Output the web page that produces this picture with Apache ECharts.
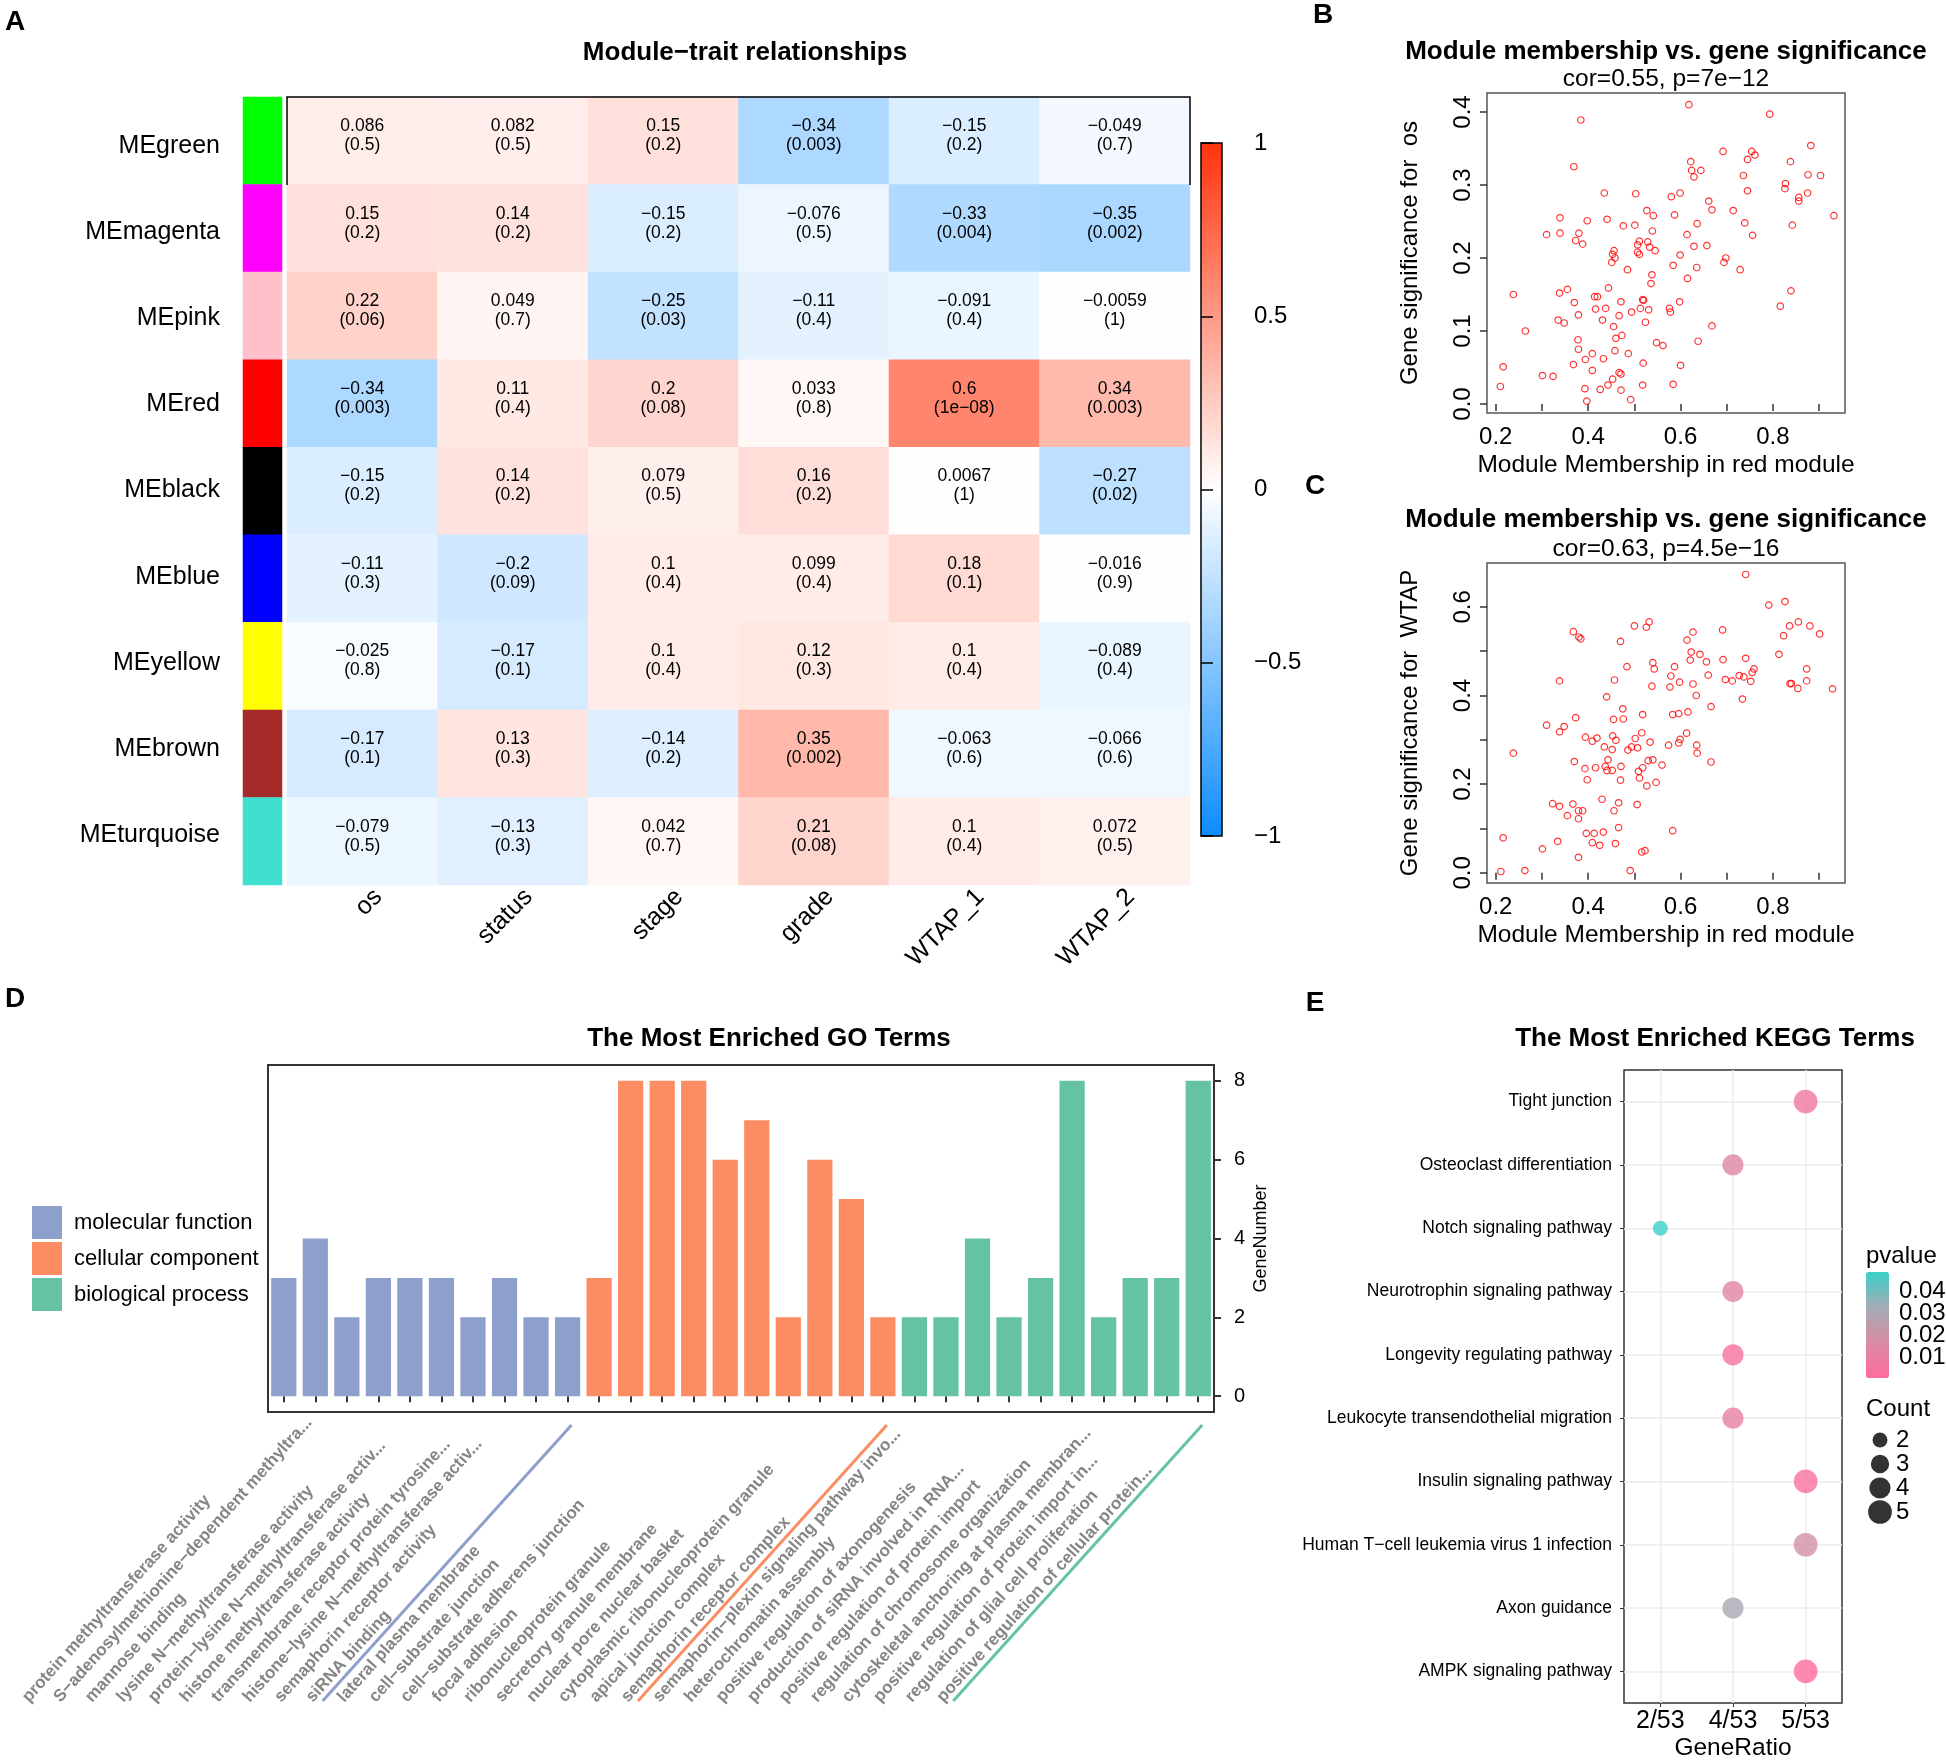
<!DOCTYPE html>
<html>
<head>
<meta charset="utf-8">
<title>Module-trait relationships and enrichment</title>
<script src="https://cdn.jsdelivr.net/npm/echarts@6/dist/echarts.min.js"></script>
<style>
html, body { margin: 0; padding: 0; background: #fff; }
#chart { width: 1946px; height: 1761px; }
</style>
</head>
<body>
<div id="chart"></div>
<script>
// ---- panel A: module-trait correlations ----
const modules = ['MEgreen', 'MEmagenta', 'MEpink', 'MEred', 'MEblack', 'MEblue', 'MEyellow', 'MEbrown', 'MEturquoise']
const moduleColors = ['#00FF00', '#FF00FF', '#FFC0CB', '#FF0000', '#000000', '#0000FF', '#FFFF00', '#A52A2A', '#40E0D0']
const traits = ['os', 'status', 'stage', 'grade', 'WTAP_1', 'WTAP_2']
const corValues = [
  [0.086, 0.082, 0.15, -0.34, -0.15, -0.049],
  [0.15, 0.14, -0.15, -0.076, -0.33, -0.35],
  [0.22, 0.049, -0.25, -0.11, -0.091, -0.0059],
  [-0.34, 0.11, 0.2, 0.033, 0.6, 0.34],
  [-0.15, 0.14, 0.079, 0.16, 0.0067, -0.27],
  [-0.11, -0.2, 0.1, 0.099, 0.18, -0.016],
  [-0.025, -0.17, 0.1, 0.12, 0.1, -0.089],
  [-0.17, 0.13, -0.14, 0.35, -0.063, -0.066],
  [-0.079, -0.13, 0.042, 0.21, 0.1, 0.072]
]
const pValues = [
  ['0.5', '0.5', '0.2', '0.003', '0.2', '0.7'],
  ['0.2', '0.2', '0.2', '0.5', '0.004', '0.002'],
  ['0.06', '0.7', '0.03', '0.4', '0.4', '1'],
  ['0.003', '0.4', '0.08', '0.8', '1e-08', '0.003'],
  ['0.2', '0.2', '0.5', '0.2', '1', '0.02'],
  ['0.3', '0.09', '0.4', '0.4', '0.1', '0.9'],
  ['0.8', '0.1', '0.4', '0.3', '0.4', '0.4'],
  ['0.1', '0.3', '0.2', '0.002', '0.6', '0.6'],
  ['0.5', '0.3', '0.7', '0.08', '0.4', '0.5']
]

// ---- panels B and C: module membership vs gene significance ----
const mmTicks = [0.2, 0.3, 0.4, 0.5, 0.6, 0.7, 0.8, 0.9]
const mmLabels = [0.2, 0.4, 0.6, 0.8]
const gsOsTicks = [0, 0.1, 0.2, 0.3, 0.4]
const gsWtapTicks = [0, 0.1, 0.2, 0.3, 0.4, 0.5, 0.6]
const gsWtapLabels = [0, 0.2, 0.4, 0.6]
const scatterOs = [
  [0.618, 0.410], [0.793, 0.397], [0.384, 0.389], [0.882, 0.354], [0.692, 0.346], [0.754, 0.346], [0.761, 0.341], [0.745, 0.335], [0.622, 0.332], [0.838, 0.332],
  [0.369, 0.325], [0.624, 0.320], [0.644, 0.320], [0.629, 0.311], [0.736, 0.313], [0.876, 0.314], [0.903, 0.313], [0.827, 0.302], [0.826, 0.295], [0.745, 0.292],
  [0.435, 0.289], [0.503, 0.288], [0.599, 0.289], [0.580, 0.284], [0.875, 0.289], [0.856, 0.283], [0.856, 0.278], [0.661, 0.278], [0.668, 0.266], [0.714, 0.265],
  [0.527, 0.265], [0.541, 0.258], [0.587, 0.259], [0.932, 0.258], [0.339, 0.255], [0.441, 0.253], [0.398, 0.251], [0.636, 0.247], [0.739, 0.248], [0.842, 0.245],
  [0.476, 0.244], [0.501, 0.245], [0.539, 0.237], [0.310, 0.232], [0.339, 0.234], [0.380, 0.234], [0.614, 0.232], [0.756, 0.231], [0.373, 0.224], [0.388, 0.219],
  [0.511, 0.223], [0.529, 0.222], [0.507, 0.218], [0.657, 0.217], [0.533, 0.215], [0.629, 0.216], [0.456, 0.210], [0.545, 0.210], [0.453, 0.205], [0.507, 0.208],
  [0.511, 0.205], [0.599, 0.204], [0.458, 0.200], [0.698, 0.200], [0.451, 0.194], [0.694, 0.194], [0.584, 0.190], [0.635, 0.187], [0.485, 0.184], [0.729, 0.184],
  [0.538, 0.177], [0.615, 0.172], [0.536, 0.165], [0.444, 0.159], [0.355, 0.157], [0.839, 0.155], [0.238, 0.150], [0.338, 0.152], [0.414, 0.147], [0.420, 0.147],
  [0.518, 0.143], [0.520, 0.142], [0.370, 0.139], [0.471, 0.140], [0.598, 0.140], [0.816, 0.134], [0.416, 0.130], [0.438, 0.131], [0.513, 0.131], [0.531, 0.129],
  [0.576, 0.131], [0.578, 0.126], [0.494, 0.126], [0.379, 0.122], [0.467, 0.121], [0.335, 0.115], [0.431, 0.115], [0.348, 0.111], [0.524, 0.112], [0.668, 0.107],
  [0.455, 0.106], [0.264, 0.100], [0.473, 0.094], [0.460, 0.090], [0.378, 0.088], [0.638, 0.086], [0.548, 0.084], [0.562, 0.080], [0.379, 0.075], [0.458, 0.073],
  [0.487, 0.069], [0.409, 0.069], [0.394, 0.061], [0.433, 0.062], [0.519, 0.056], [0.368, 0.054], [0.600, 0.053], [0.216, 0.051], [0.409, 0.046], [0.467, 0.043],
  [0.471, 0.041], [0.301, 0.039], [0.324, 0.038], [0.453, 0.034], [0.443, 0.026], [0.518, 0.026], [0.584, 0.027], [0.210, 0.024], [0.393, 0.021], [0.426, 0.020],
  [0.471, 0.019], [0.492, 0.006], [0.397, 0.004]
]
const scatterWtap = [
  [0.741, 0.673], [0.826, 0.612], [0.791, 0.604], [0.532, 0.566], [0.855, 0.566], [0.500, 0.557], [0.526, 0.554], [0.836, 0.557], [0.880, 0.557], [0.691, 0.548],
  [0.368, 0.544], [0.627, 0.543], [0.901, 0.539], [0.380, 0.532], [0.384, 0.528], [0.823, 0.535], [0.614, 0.525], [0.470, 0.522], [0.623, 0.498], [0.642, 0.493],
  [0.813, 0.493], [0.621, 0.480], [0.692, 0.481], [0.741, 0.484], [0.540, 0.474], [0.656, 0.476], [0.484, 0.465], [0.587, 0.465], [0.543, 0.460], [0.759, 0.460],
  [0.873, 0.460], [0.755, 0.452], [0.579, 0.444], [0.660, 0.446], [0.727, 0.445], [0.737, 0.442], [0.338, 0.433], [0.457, 0.435], [0.697, 0.436], [0.712, 0.433],
  [0.752, 0.432], [0.873, 0.433], [0.598, 0.430], [0.627, 0.426], [0.837, 0.427], [0.840, 0.427], [0.538, 0.421], [0.577, 0.419], [0.854, 0.416], [0.929, 0.415],
  [0.634, 0.400], [0.440, 0.397], [0.734, 0.392], [0.666, 0.375], [0.475, 0.370], [0.616, 0.363], [0.518, 0.357], [0.583, 0.357], [0.596, 0.359], [0.373, 0.350],
  [0.455, 0.346], [0.476, 0.347], [0.310, 0.333], [0.348, 0.330], [0.338, 0.318], [0.516, 0.316], [0.613, 0.315], [0.453, 0.309], [0.394, 0.306], [0.419, 0.304],
  [0.502, 0.303], [0.409, 0.297], [0.460, 0.299], [0.599, 0.301], [0.534, 0.295], [0.596, 0.293], [0.574, 0.288], [0.635, 0.288], [0.435, 0.284], [0.494, 0.284],
  [0.507, 0.282], [0.486, 0.277], [0.452, 0.278], [0.238, 0.270], [0.636, 0.270], [0.443, 0.255], [0.530, 0.253], [0.540, 0.255], [0.370, 0.251], [0.666, 0.250],
  [0.560, 0.243], [0.437, 0.240], [0.471, 0.240], [0.393, 0.235], [0.416, 0.237], [0.441, 0.231], [0.452, 0.231], [0.509, 0.229], [0.518, 0.237], [0.511, 0.214],
  [0.398, 0.210], [0.470, 0.209], [0.547, 0.204], [0.527, 0.196], [0.430, 0.166], [0.323, 0.156], [0.338, 0.150], [0.367, 0.155], [0.466, 0.158], [0.506, 0.154],
  [0.379, 0.140], [0.388, 0.140], [0.456, 0.140], [0.355, 0.129], [0.379, 0.122], [0.466, 0.102], [0.583, 0.095], [0.396, 0.089], [0.413, 0.089], [0.433, 0.092],
  [0.216, 0.079], [0.334, 0.071], [0.409, 0.068], [0.459, 0.066], [0.425, 0.062], [0.301, 0.054], [0.516, 0.047], [0.523, 0.050], [0.379, 0.035], [0.211, 0.003],
  [0.263, 0.005], [0.491, 0.005]
]

// ---- panel D: GO terms ----
const goGroupNames = ['molecular function', 'cellular component', 'biological process']
const goTerms = [
  'protein methyltransferase activity',
  'S-adenosylmethionine-dependent methyltra...',
  'mannose binding',
  'lysine N-methyltransferase activity',
  'protein-lysine N-methyltransferase activ...',
  'histone methyltransferase activity',
  'transmembrane receptor protein tyrosine...',
  'histone-lysine N-methyltransferase activ...',
  'semaphorin receptor activity',
  'siRNA binding',
  'lateral plasma membrane',
  'cell-substrate junction',
  'cell-substrate adherens junction',
  'focal adhesion',
  'ribonucleoprotein granule',
  'secretory granule membrane',
  'nuclear pore nuclear basket',
  'cytoplasmic ribonucleoprotein granule',
  'apical junction complex',
  'semaphorin receptor complex',
  'semaphorin-plexin signaling pathway invo...',
  'heterochromatin assembly',
  'positive regulation of axonogenesis',
  'production of siRNA involved in RNA...',
  'positive regulation of protein import',
  'regulation of chromosome organization',
  'cytoskeletal anchoring at plasma membran...',
  'positive regulation of protein import in...',
  'regulation of glial cell proliferation',
  'positive regulation of cellular protein...'
]
const goCounts = [3, 4, 2, 3, 3, 3, 2, 3, 2, 2, 3, 8, 8, 8, 6, 7, 2, 6, 5, 2, 2, 2, 4, 2, 3, 8, 2, 3, 3, 8]
const goGroups = [0, 0, 0, 0, 0, 0, 0, 0, 0, 0, 1, 1, 1, 1, 1, 1, 1, 1, 1, 1, 2, 2, 2, 2, 2, 2, 2, 2, 2, 2]
const geneTicks = [0, 2, 4, 6, 8]

// ---- panel E: KEGG terms ----
const keggTerms = [
  'Tight junction', 'Osteoclast differentiation', 'Notch signaling pathway', 'Neurotrophin signaling pathway',
  'Longevity regulating pathway', 'Leukocyte transendothelial migration', 'Insulin signaling pathway',
  'Human T-cell leukemia virus 1 infection', 'Axon guidance', 'AMPK signaling pathway'
]
const keggRatioTicks = ['2/53', '4/53', '5/53']
const keggRatio = ['5/53', '4/53', '2/53', '4/53', '4/53', '4/53', '5/53', '5/53', '4/53', '5/53']
const keggCount = [5, 4, 2, 4, 4, 4, 5, 5, 4, 5]
const keggP = [0.007, 0.014, 0.0487, 0.013, 0.003, 0.011, 0.003, 0.019, 0.031, 0.0003]
const pTickLabels = ['0.01', '0.02', '0.03', '0.04']
const countLegend = [2, 3, 4, 5]

const FONT = '"Liberation Sans", Arial, Helvetica, sans-serif'
const goColors = ['#8DA0CB', '#FC8D62', '#66C2A5']
const neg = s => String(s).replace(/-/g, '\u2212')
const dotSize = c => 10.6 * Math.sqrt(c)
const pMin = Math.min(...keggP)
const pMax = Math.max(...keggP)

const chart = echarts.init(document.getElementById('chart'))

function scatterX(g) {
  return {
    gridIndex: g, type: 'value', min: 0.181, max: 0.956,
    name: 'Module Membership in red module', nameLocation: 'middle', nameGap: 40,
    nameTextStyle: { fontSize: 24.5, color: '#000' },
    axisLine: { show: false }, splitLine: { show: false },
    axisTick: { show: true, length: 7, lineStyle: { color: '#333', width: 1.5 }, customValues: mmTicks },
    axisLabel: { fontSize: 24, color: '#000', margin: 12, customValues: mmLabels, formatter: v => v.toFixed(1) }
  }
}
function scatterY(g, min, max, ticks, labels, name) {
  return {
    gridIndex: g, type: 'value', min, max,
    name, nameLocation: 'middle', nameGap: 65,
    nameTextStyle: { fontSize: 24, color: '#000' },
    axisLine: { show: false }, splitLine: { show: false },
    axisTick: { show: true, length: 7, lineStyle: { color: '#333', width: 1.5 }, customValues: ticks },
    axisLabel: { fontSize: 24, color: '#000', margin: 12, rotate: 90, customValues: labels, formatter: v => v.toFixed(1) }
  }
}
function grid(left, top, width, height, extra) {
  return Object.assign({ left, top, width, height, containLabel: false, outerBoundsMode: 'none' }, extra || {})
}
function text(id, x, y, str, size, weight, align) {
  return {
    type: 'text', id, x, y, z: 20,
    style: {
      text: str, fontSize: size, fontWeight: weight || 'normal', fontFamily: FONT,
      fill: '#000', align: align || 'center', verticalAlign: 'middle'
    }
  }
}

const heatData = []
corValues.forEach((row, i) => row.forEach((v, j) => heatData.push([j, i, v])))

const option = {
  animation: false,
  backgroundColor: '#fff',
  textStyle: { fontFamily: FONT, color: '#000' },
  grid: [
    grid(287, 97, 903, 788),
    grid(243, 97, 39, 788),
    grid(1201, 143, 21, 693, { show: true, borderColor: '#000', borderWidth: 1.5, backgroundColor: 'transparent', z: 10 }),
    grid(1487, 93, 358, 320, { show: true, borderColor: '#555', borderWidth: 1.5 }),
    grid(1487, 563, 358, 320, { show: true, borderColor: '#555', borderWidth: 1.5 }),
    grid(268, 1065, 946, 347, { show: true, borderColor: '#333', borderWidth: 2 }),
    grid(1624, 1070, 218, 633, { show: true, borderColor: '#333', borderWidth: 1.5 }),
    // pvalue colourbar labels: 0.01 .. 0.04 are evenly spaced inside the bar
    grid(1866, 1280, 23, 88),
    grid(1868, 1428, 24, 96),
    // trait labels sit a little right of the column centres, as in labeledHeatmap
    grid(303, 97, 903, 788),
    // module names are spaced a touch tighter than the rows
    grid(243, 103, 39, 775)
  ],
  xAxis: [
    { gridIndex: 0, type: 'category', data: traits, show: false },
    { gridIndex: 1, type: 'category', data: [''], show: false },
    { gridIndex: 2, type: 'value', show: false },
    scatterX(3),
    scatterX(4),
    {
      gridIndex: 5, type: 'category', data: goTerms,
      axisLine: { show: false }, splitLine: { show: false },
      axisTick: { show: true, alignWithLabel: true, length: 6, lineStyle: { color: '#333', width: 2 } },
      axisLabel: {
        interval: 0, rotate: 48, margin: 1, fontWeight: 'bold', fontSize: 17, color: '#858585',
        formatter: v => '{t|' + neg(v) + '}',
        rich: { t: { width: 386, align: 'left', fontSize: 17, fontWeight: 'bold', color: '#858585', fontFamily: FONT } }
      }
    },
    {
      gridIndex: 6, type: 'category', data: keggRatioTicks,
      axisLine: { show: false },
      axisTick: { show: true, alignWithLabel: true, length: 4, lineStyle: { color: '#333' } },
      axisLabel: { fontSize: 25, margin: 6, color: '#000' },
      splitLine: { show: true, alignWithLabel: true, lineStyle: { color: '#EBEBEB', width: 1.5 } },
      name: 'GeneRatio', nameLocation: 'middle', nameGap: 33, nameTextStyle: { fontSize: 24.5, color: '#000' }
    },
    { gridIndex: 7, type: 'value', show: false },
    { gridIndex: 8, type: 'value', show: false, min: -1, max: 1 },
    {
      gridIndex: 9, type: 'category', data: traits, position: 'bottom',
      axisLine: { show: false }, axisTick: { show: false }, splitLine: { show: false },
      axisLabel: { rotate: 45, fontSize: 25, margin: 8, color: '#000', interval: 0 }
    },
    { gridIndex: 10, type: 'value', show: false }
  ],
  yAxis: [
    { gridIndex: 0, type: 'category', data: modules, inverse: true, show: false },
    { gridIndex: 1, type: 'category', data: modules, inverse: true, show: false },
    {
      gridIndex: 2, type: 'value', position: 'right', min: -1, max: 1, interval: 0.5, z: 10,
      axisLine: { show: false }, splitLine: { show: false },
      axisTick: { show: true, length: 12, lineStyle: { color: '#000', width: 1.5 } },
      axisLabel: { fontSize: 24, margin: 32, color: '#000', formatter: v => neg(v) }
    },
    scatterY(3, -0.0123, 0.426, gsOsTicks, gsOsTicks, 'Gene significance for  os'),
    scatterY(4, -0.023, 0.699, gsWtapTicks, gsWtapLabels, 'Gene significance for  WTAP'),
    {
      gridIndex: 5, type: 'value', position: 'right', min: -0.4, max: 8.4,
      name: 'GeneNumber', nameLocation: 'middle', nameGap: 38, nameRotate: 90,
      nameTextStyle: { fontSize: 18, color: '#000' },
      axisLine: { show: false }, splitLine: { show: false },
      axisTick: { show: true, length: 7, lineStyle: { color: '#333', width: 2 }, customValues: geneTicks },
      axisLabel: { fontSize: 20, margin: 20, color: '#000', customValues: geneTicks }
    },
    {
      gridIndex: 6, type: 'category', data: keggTerms, inverse: true,
      axisLine: { show: false },
      axisTick: { show: true, alignWithLabel: true, length: 4, lineStyle: { color: '#333' } },
      axisLabel: { fontSize: 17.5, margin: 12, color: '#000', interval: 0, formatter: v => neg(v) },
      splitLine: { show: true, alignWithLabel: true, lineStyle: { color: '#EBEBEB', width: 1.5 } }
    },
    {
      gridIndex: 7, type: 'category', data: pTickLabels, position: 'right', z: 10,
      axisLine: { show: false }, splitLine: { show: false },
      axisTick: { show: true, inside: true, alignWithLabel: true, length: 5, lineStyle: { color: '#fff', width: 1.5 } },
      axisLabel: { fontSize: 24, margin: 10, color: '#000', interval: 0 }
    },
    {
      gridIndex: 8, type: 'category', data: countLegend.map(String), inverse: true, position: 'right',
      axisLine: { show: false }, axisTick: { show: false },
      axisLabel: { fontSize: 24, margin: 4, color: '#000', interval: 0 }
    },
    { gridIndex: 9, type: 'value', show: false },
    {
      gridIndex: 10, type: 'category', data: modules, inverse: true,
      axisLine: { show: false }, axisTick: { show: false },
      axisLabel: { fontSize: 25, margin: 23, color: '#000', interval: 0 }
    }
  ],
  visualMap: [
    {
      type: 'continuous', seriesIndex: 0, dimension: 2, min: -1, max: 1,
      inRange: { color: ['#0D8CFF', '#FFFFFF', '#FF330D'] },
      left: 1201, top: 143, itemWidth: 21, itemHeight: 693,
      calculable: false, hoverLink: false, padding: 0
    },
    {
      type: 'continuous', seriesIndex: 7, dimension: 2, min: pMin, max: pMax,
      inRange: { color: ['#FF6B9E', '#DA8BA3', '#A3ACB5', '#3BCFC8'] },
      left: 1866, top: 1272, itemWidth: 23, itemHeight: 106,
      calculable: false, hoverLink: false, padding: 0
    }
  ],
  legend: {
    data: goGroupNames, orient: 'vertical', left: 32, top: 1206, padding: 0,
    itemWidth: 30, itemHeight: 33, itemGap: 3, icon: 'rect', selectedMode: false,
    textStyle: { fontSize: 22, color: '#000', padding: [0, 0, 0, 7] }
  },
  series: [
    {
      type: 'heatmap', xAxisIndex: 0, yAxisIndex: 0, data: heatData,
      emphasis: { disabled: true },
      label: {
        show: true, fontSize: 17.5, lineHeight: 19, color: '#000', offset: [0, -5],
        formatter: p => neg(p.value[2]) + '\n(' + neg(pValues[p.value[1]][p.value[0]]) + ')'
      }
    },
    {
      type: 'heatmap', xAxisIndex: 1, yAxisIndex: 1,
      emphasis: { disabled: true },
      data: modules.map((m, i) => ({ value: [0, i, 1], itemStyle: { color: moduleColors[i] } }))
    },
    {
      type: 'scatter', xAxisIndex: 3, yAxisIndex: 3, data: scatterOs,
      symbol: 'circle', symbolSize: 6.5,
      itemStyle: { color: 'rgba(0,0,0,0)', borderColor: '#FF0000', borderWidth: 1.2 }
    },
    {
      type: 'scatter', xAxisIndex: 4, yAxisIndex: 4, data: scatterWtap,
      symbol: 'circle', symbolSize: 6.5,
      itemStyle: { color: 'rgba(0,0,0,0)', borderColor: '#FF0000', borderWidth: 1.2 }
    },
    ...goGroupNames.map((name, g) => ({
      type: 'bar', name, xAxisIndex: 5, yAxisIndex: 5,
      barWidth: '80%', barGap: '-100%',
      itemStyle: { color: goColors[g] },
      data: goCounts.map((c, i) => (goGroups[i] === g ? c : '-'))
    })),
    {
      type: 'scatter', xAxisIndex: 6, yAxisIndex: 6,
      data: keggTerms.map((t, i) => [keggRatio[i], t, keggP[i], keggCount[i]]),
      symbolSize: v => dotSize(v[3])
    },
    {
      type: 'scatter', xAxisIndex: 8, yAxisIndex: 8,
      data: countLegend.map(c => [0, String(c), 0, c]),
      symbolSize: v => dotSize(v[3]),
      itemStyle: { color: '#000' }
    }
  ],
  graphic: {
    elements: [
      text('tA', 15, 22, 'A', 28, 'bold'),
      text('tB', 1323, 15, 'B', 28, 'bold'),
      text('tC', 1315, 486, 'C', 28, 'bold'),
      text('tD', 15, 999, 'D', 28, 'bold'),
      text('tE', 1315, 1003, 'E', 28, 'bold'),
      text('titleA', 745, 53, 'Module\u2212trait relationships', 26, 'bold'),
      text('titleB', 1666, 52, 'Module membership vs. gene significance', 26, 'bold'),
      text('subB', 1666, 79, 'cor=0.55, p=7e\u221212', 24.5),
      text('titleC', 1666, 520, 'Module membership vs. gene significance', 26, 'bold'),
      text('subC', 1666, 549, 'cor=0.63, p=4.5e\u221216', 24.5),
      text('titleD', 769, 1039, 'The Most Enriched GO Terms', 26, 'bold'),
      text('titleE', 1715, 1039, 'The Most Enriched KEGG Terms', 26, 'bold'),
      text('legP', 1866, 1256, 'pvalue', 24, 'normal', 'left'),
      text('legC', 1866, 1409, 'Count', 24, 'normal', 'left'),
      {
        type: 'polyline', id: 'frame', z: 20,
        shape: { points: [[287, 185], [287, 97], [1190, 97], [1190, 185]] },
        style: { stroke: '#000', lineWidth: 1.5, fill: null }
      }
    ]
  }
}

chart.setOption(option)

// group separators under the GO labels, placed from the axis scale
const goBottom = 1065 + 347
const lastOfGroup = [9, 19, 29]
chart.setOption({
  graphic: {
    elements: lastOfGroup.map((k, g) => {
      const x = chart.convertToPixel({ xAxisIndex: 5 }, goTerms[k]) + 4
      const y = goBottom + 13
      return {
        type: 'line', id: 'sep' + g, z: 20,
        shape: { x1: x, y1: y, x2: x - 249, y2: y + 276 },
        style: { stroke: goColors[g], lineWidth: 3 }
      }
    })
  }
})
</script>
</body>
</html>
